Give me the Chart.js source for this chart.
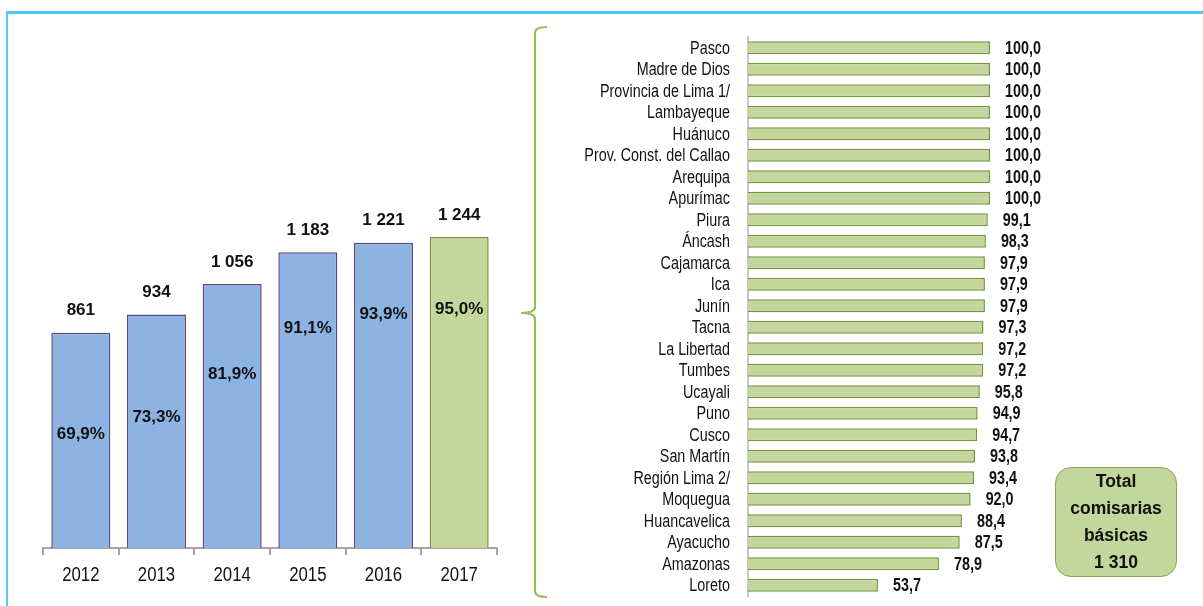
<!DOCTYPE html>
<html>
<head>
<meta charset="utf-8">
<script src="https://cdn.jsdelivr.net/npm/chart.js@4/dist/chart.umd.min.js"></script>
<style>
  html, body { margin: 0; padding: 0; background: #fff; }
  body { width: 1203px; height: 606px; position: relative; overflow: hidden; font-family: "Liberation Sans", Arial, sans-serif; }
  .frame { position: absolute; left: 6px; top: 11px; width: 1300px; height: 700px; border-top: 3px solid #4ecbf2; border-left: 2px solid #4ecbf2; }
  #yearsWrap { position: absolute; left: 0; top: 0; width: 520px; height: 606px; }
  #regionsWrap { position: absolute; left: 520px; top: 0; width: 683px; height: 606px; }
  .brace { position: absolute; left: 0; top: 0; }
  .total { position: absolute; left: 1055px; top: 467px; width: 122px; height: 110px; box-sizing: border-box;
    background: #c3d69b; border: 1.5px solid #8aa65a; border-radius: 16px;
    font: bold 17.5px "Liberation Sans", Arial, sans-serif; color: #111; text-align: center;
    display: flex; flex-direction: column; justify-content: center; line-height: 27px; }
</style>
</head>
<body>
<div class="frame"></div>
<svg class="brace" width="1203" height="606">
  <path d="M547 27 Q535 27 535 33 L535 307 Q535 313 521 313 Q535 313 535 319 L535 591 Q535 597 547 597"
        fill="none" stroke="#9bbb59" stroke-width="2.2"/>
</svg>
<div id="yearsWrap"><canvas id="yearsChart" width="520" height="606"></canvas></div>
<div id="regionsWrap"><canvas id="regionsChart" width="683" height="606"></canvas></div>
<div class="total" id="totalBox"></div>

<script>
// Comisarías por año y porcentaje con cobertura
const years = ['2012', '2013', '2014', '2015', '2016', '2017'];
const comisarias = [861, 934, 1056, 1183, 1221, 1244];
const porcentaje = [69.9, 73.3, 81.9, 91.1, 93.9, 95.0];

// Cobertura por región (%)
const regiones = ['Pasco', 'Madre de Dios', 'Provincia de Lima 1/', 'Lambayeque', 'Huánuco',
    'Prov. Const. del Callao', 'Arequipa', 'Apurímac', 'Piura', 'Áncash', 'Cajamarca', 'Ica',
    'Junín', 'Tacna', 'La Libertad', 'Tumbes', 'Ucayali', 'Puno', 'Cusco', 'San Martín',
    'Región Lima 2/', 'Moquegua', 'Huancavelica', 'Ayacucho', 'Amazonas', 'Loreto'];
const cobertura = [100.0, 100.0, 100.0, 100.0, 100.0, 100.0, 100.0, 100.0, 99.1, 98.3, 97.9, 97.9,
    97.9, 97.3, 97.2, 97.2, 95.8, 94.9, 94.7, 93.8, 93.4, 92.0, 88.4, 87.5, 78.9, 53.7];

const totalComisarias = 1310;

const BLUE = '#8db3e2', BLUE_BORDER = '#5f497a';
const GREEN = '#c3d69b', GREEN_BORDER = '#77933c';
const ARIAL = '"Liberation Sans", Arial, sans-serif';

const fmtMiles = v => String(v).replace(/\B(?=(\d{3})+(?!\d))/g, ' ');
const fmtDec = v => v.toFixed(1).replace('.', ',');

document.getElementById('totalBox').innerHTML =
    '<div>Total</div><div>comisarias</div><div>básicas</div><div>' + fmtMiles(totalComisarias) + '</div>';

// no Arial Narrow installed: squeeze Arial horizontally instead
function narrowText(ctx, text, x, y, align) {
    ctx.save();
    ctx.translate(x, y);
    ctx.scale(0.82, 1);
    ctx.textAlign = align;
    ctx.fillText(text, 0, 0);
    ctx.restore();
}

const yearsLabels = {
    id: 'yearsLabels',
    afterDatasetsDraw(chart) {
        const ctx = chart.ctx;
        ctx.save();
        ctx.fillStyle = '#111';
        ctx.textAlign = 'center';
        ctx.textBaseline = 'middle';
        ctx.font = 'bold 17px ' + ARIAL;
        chart.getDatasetMeta(0).data.forEach((bar, i) => {
            ctx.fillText(fmtMiles(comisarias[i]), bar.x, bar.y - 22);
        });
        chart.getDatasetMeta(1).data.forEach((pt, i) => {
            ctx.fillText(fmtDec(porcentaje[i]) + '%', pt.x, pt.y);
        });
        const xs = chart.scales.x;
        ctx.font = '20.5px ' + ARIAL;
        years.forEach((y, i) => narrowText(ctx, y, xs.getPixelForTick(i), chart.chartArea.bottom + 27, 'center'));
        ctx.restore();
    }
};

new Chart(document.getElementById('yearsChart'), {
    type: 'bar',
    data: {
        labels: years,
        datasets: [
            {
                type: 'bar',
                data: comisarias,
                backgroundColor: years.map((y, i) => i === years.length - 1 ? GREEN : BLUE),
                borderColor: years.map((y, i) => i === years.length - 1 ? GREEN_BORDER : BLUE_BORDER),
                borderWidth: 1.5,
                borderSkipped: 'bottom',
                barPercentage: 0.78,
                categoryPercentage: 1,
                yAxisID: 'y'
            },
            {
                type: 'line',
                data: porcentaje,
                showLine: false,
                pointRadius: 0,
                yAxisID: 'y2'
            }
        ]
    },
    options: {
        responsive: false,
        animation: false,
        layout: { padding: { left: 43, right: 23, top: 198, bottom: 0 } },
        plugins: { legend: { display: false }, tooltip: { enabled: false } },
        scales: {
            x: {
                afterFit: s => { s.height = 58; },
                grid: { display: true, drawOnChartArea: false, drawTicks: true, tickLength: 7, color: '#a6a6a6', lineWidth: 2 },
                border: { display: true, color: '#a6a6a6', width: 2 },
                ticks: { display: false }
            },
            y: { display: false, min: 0, max: 1400 },
            y2: { display: false, min: 47, max: 117.3 }
        }
    },
    plugins: [yearsLabels]
});

const regionLabels = {
    id: 'regionLabels',
    afterDatasetsDraw(chart) {
        const ctx = chart.ctx;
        const ys = chart.scales.y;
        ctx.save();
        ctx.fillStyle = '#111';
        ctx.textBaseline = 'middle';
        ctx.font = '17.5px ' + ARIAL;
        regiones.forEach((r, i) => narrowText(ctx, r, chart.chartArea.left - 18, ys.getPixelForTick(i) + 1, 'right'));
        ctx.font = 'bold 17.5px ' + ARIAL;
        chart.getDatasetMeta(0).data.forEach((bar, i) => {
            narrowText(ctx, fmtDec(cobertura[i]), bar.x + 15, bar.y + 1, 'left');
        });
        ctx.restore();
    }
};

const regionsChart = new Chart(document.getElementById('regionsChart'), {
    type: 'bar',
    data: {
        labels: regiones,
        datasets: [{
            data: cobertura,
            backgroundColor: GREEN,
            borderColor: GREEN_BORDER,
            borderWidth: 1.5,
            borderSkipped: 'left',
            barPercentage: 0.6,
            categoryPercentage: 1
        }]
    },
    options: {
        indexAxis: 'y',
        responsive: false,
        animation: false,
        layout: { padding: { left: 0, right: 213, top: 37, bottom: 10 } },
        plugins: { legend: { display: false }, tooltip: { enabled: false } },
        scales: {
            x: { display: false, min: 0, max: 100 },
            y: {
                afterFit: s => { s.width = 228; },
                grid: { display: false },
                border: { display: true, color: '#c8c8c8', width: 2 },
                ticks: { display: false }
            }
        }
    },
    plugins: [regionLabels]
});

// keep the plot area on rows 37..596 whatever the layout does
const pad = regionsChart.options.layout.padding;
pad.top += 37 - regionsChart.chartArea.top;
pad.bottom += regionsChart.chartArea.bottom - 596;
regionsChart.update();
</script>
</body>
</html>
